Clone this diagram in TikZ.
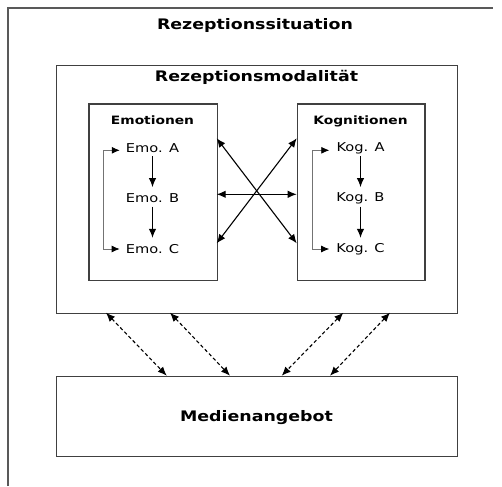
\documentclass[tikz,border=0pt]{standalone}
\usepackage{fontspec}
\setmainfont{DejaVu Sans}[FakeStretch=1.2]
\usetikzlibrary{arrows.meta}
\begin{document}
\begin{tikzpicture}[x=1pt,y=-1pt,
  >={Latex[length=9pt,width=7.5pt]},
  frame/.style={draw=black!65, line width=1.3pt},
  box/.style={draw=black!75, line width=1.3pt, inner sep=0, anchor=north west},
  title/.style={font=\fontsize{14.5}{17}\selectfont\bfseries, inner sep=0},
  subtitle/.style={font=\fontsize{11.5}{14}\selectfont\bfseries, inner sep=0},
  item/.style={font=\fontsize{12.2}{14}\selectfont, inner sep=0, minimum height=16pt},
  arr/.style={->, line width=1.1pt},
  dbl/.style={<->, line width=1.1pt},
  loop/.style={{Latex[length=8pt,width=7pt,black]}-{Latex[length=8pt,width=7pt,black]}, draw=black!55, line width=0.8pt},
  dashdbl/.style={<->, line width=1.1pt, dash pattern=on 3.5pt off 2.5pt}
]
\useasboundingbox[fill=white] (0,0) rectangle (502,486);

% outer situation frame (only top and left edges)
\draw[frame] (8,486) -- (8,8) -- (493,8);
\node[title] (situ) at (255,26) {Rezeptionssituation};

% modality box with the two inner boxes
\node[box, minimum width=401pt, minimum height=247.7pt] (modal) at (55.7,65) {};
\node[title] (modtitle) at (256.5,77) {Rezeptionsmodalität};

\node[box, minimum width=128.4pt, minimum height=176.7pt] (emo) at (88.3,103.3) {};
\node[box, minimum width=127.6pt, minimum height=176.7pt] (kog) at (296.7,103.3) {};

\node[subtitle] (emotitle) at (152.5,120.5) {Emotionen};
\node[subtitle] (kogtitle) at (360.5,121) {Kognitionen};

\node[item] (emoA) at (152.5,148.3) {Emo. A};
\node[item] (emoB) at (152.5,198.3) {Emo. B};
\node[item] (emoC) at (152.5,249) {Emo. C};
\node[item] (kogA) at (360.5,148.3) {Kog. A};
\node[item] (kogB) at (360.5,198.3) {Kog. B};
\node[item] (kogC) at (360.5,249) {Kog. C};

% chains inside the boxes
\draw[arr, shorten >=3pt] (emoA.south) -- (emoB.north);
\draw[arr, shorten >=3pt] (emoB.south) -- (emoC.north);
\draw[arr, shorten >=3pt] (kogA.south) -- (kogB.north);
\draw[arr, shorten >=3pt] (kogB.south) -- (kogC.north);

\draw[loop] ([xshift=-6pt,yshift=-2pt]emoA.west) -- ++(-16.5,0) |- ([xshift=-6pt]emoC.west);
\draw[loop] ([xshift=-7pt,yshift=-2pt]kogA.west) -- ++(-16.5,0) |- ([xshift=-7pt]kogC.west);

% links between emotions and cognitions
\coordinate (eT) at (216.7,138.3);
\coordinate (eM) at (216.7,194.3);
\coordinate (eB) at (216.7,243.3);
\coordinate (kT) at (296.7,138.3);
\coordinate (kM) at (296.7,194.3);
\coordinate (kB) at (296.7,243.3);
\draw[dbl] (eT) -- (kB);
\draw[dbl] (eB) -- (kT);
\draw[dbl] (eM) -- (kM);

% media offer box
\node[box, minimum width=401pt, minimum height=80.3pt] (medien) at (55.7,375.7) {};
\node[title] (medtitle) at (256.5,417.3) {Medienangebot};

% dashed links between modality and media offer
\coordinate (m1) at (106,312.7);
\coordinate (m2) at (170,312.7);
\coordinate (m3) at (343.3,312.7);
\coordinate (m4) at (390,312.7);
\coordinate (a1) at (166.7,375.7);
\coordinate (a2) at (230,375.7);
\coordinate (a3) at (281.7,375.7);
\coordinate (a4) at (330,375.7);
\draw[dashdbl] (m1) -- (a1);
\draw[dashdbl] (m2) -- (a2);
\draw[dashdbl] (m3) -- (a3);
\draw[dashdbl] (m4) -- (a4);
\end{tikzpicture}
\end{document}
